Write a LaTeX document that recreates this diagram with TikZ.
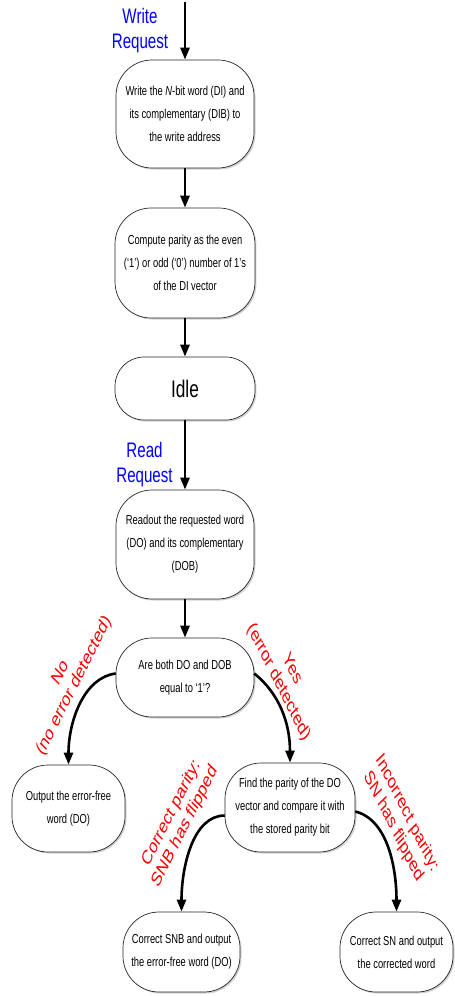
\documentclass[tikz,border=0pt]{standalone}
\usepackage{fontspec}
\setmainfont{Liberation Sans}
\usetikzlibrary{arrows.meta,shadows}
\begin{document}
\begin{tikzpicture}[x=1.38889pt, y=-1pt, xscale=0.72,
  box/.style={draw=black!85, line width=0.7pt, fill=white, rounded corners=36pt,
    align=center, transform shape, inner sep=2pt,
    font=\fontsize{13}{23}\selectfont,
    drop shadow={shadow xshift=1.5pt, shadow yshift=-1.5pt, opacity=0.3, fill=black!60}},
  arr/.style={line width=2.6pt, -{Triangle[length=12pt, width=9pt]}},
  req/.style={text=blue, align=center, transform shape, font=\fontsize{21}{25}\selectfont},
  lab/.style={text=red, align=center, transform shape, font=\fontsize{20}{23}\selectfont}]
\useasboundingbox (0,0) rectangle (455,996);

% boxes
\node[box, minimum width=191.7pt, minimum height=108pt] (write) at (185,114)
  {Write the \textit{N}-bit word (DI) and\\its complementary (DIB) to\\the write address};
\node[box, minimum width=194.4pt, minimum height=110pt] (parity) at (185,263)
  {Compute parity as the even\\(`1') or odd (`0') number of 1's\\of the DI vector};
\node[box, rounded corners=29pt, minimum width=194.4pt, minimum height=63pt,
  font=\fontsize{24}{26}\selectfont] (idle) at (185,388.5) {Idle};
\node[box, minimum width=191.7pt, minimum height=109pt] (read) at (185,544.5)
  {Readout the requested word\\(DO) and its complementary\\(DOB)};
\node[box, minimum width=191.7pt, minimum height=79pt] (dec) at (185,677.5)
  {Are both DO and DOB\\equal to `1'?};
\node[box, minimum width=157pt, minimum height=87pt] (out) at (68.5,808.5)
  {Output the error-free\\word (DO)};
\node[box, minimum width=180.6pt, minimum height=89pt] (find) at (290,807.5)
  {Find the parity of the DO\\vector and compare it with\\the stored parity bit};
\node[box, minimum width=162.5pt, minimum height=80pt] (snb) at (181.5,952)
  {Correct SNB and output\\the error-free word (DO)};
\node[box, minimum width=157pt, minimum height=80pt] (sn) at (396.5,952)
  {Correct SN and output\\the corrected word};

% request labels
\node[req] (wreq) at (140,31) {Write\\Request};
\node[req] (rreq) at (144.5,464.5) {Read\\Request};

% branch labels
\node[lab, rotate=55] (nolab) at (67.5,679.5) {No\\(no error detected)};
\node[lab, rotate=-55] (yeslab) at (285,676) {Yes\\(error detected)};
\node[lab, rotate=55] (corlab) at (178,820) {Correct parity:\\SNB has flipped};
\node[lab, rotate=-55] (inclab) at (400,820) {Incorrect parity:\\SN has flipped};

% connectors
\coordinate (wtop) at (185,2);
\draw[arr] (wtop) -- (write.north);
\draw[arr] (write.south) -- (parity.north);
\draw[arr] (parity.south) -- (idle.north);
\draw[arr] (idle.south) -- (read.north);
\draw[arr] (read.south) -- (dec.north);
\draw[arr] ([yshift=4pt]dec.west) to[out=185, in=90] (out.north);
\draw[arr] ([yshift=4pt]dec.east) to[out=-30, in=90] (find.north);
\draw[arr] ([yshift=-8pt]find.west) to[out=180, in=90] (snb.north);
\draw[arr] ([yshift=-4pt]find.east) to[out=-10, in=90] (sn.north);
\end{tikzpicture}
\end{document}
